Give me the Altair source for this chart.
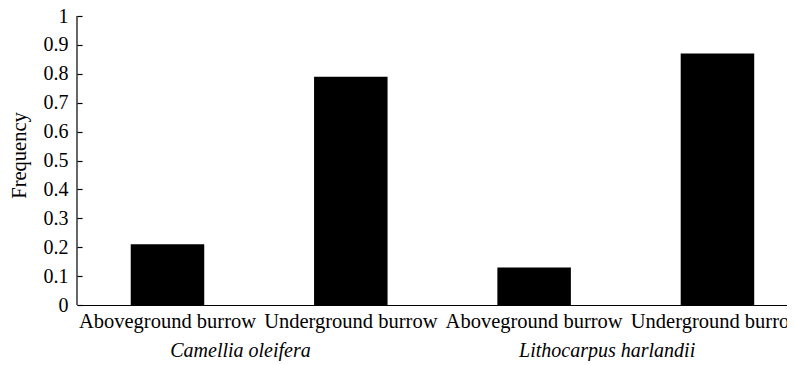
import altair as alt
import pandas as pd

groups = ["Camellia oleifera", "Camellia oleifera", "Lithocarpus harlandii", "Lithocarpus harlandii"]
burrows = ["Aboveground burrow", "Underground burrow", "Aboveground burrow", "Underground burrow"]
frequency = [0.21, 0.79, 0.13, 0.87]
group_names = ["Camellia oleifera", "Lithocarpus harlandii"]
y_ticks = [0, 0.1, 0.2, 0.3, 0.4, 0.5, 0.6, 0.7, 0.8, 0.9, 1]

keys = [g + "|" + b for g, b in zip(groups, burrows)]
df = pd.DataFrame({"key": keys, "group": groups, "burrow": burrows, "freq": frequency})
gdf = pd.DataFrame({"group": group_names,
                    "key": [keys[0], keys[2]]})

FONT = "Liberation Serif"

xscale = alt.Scale(domain=keys, paddingInner=0.599, paddingOuter=0.236, align=0.621)
yscale = alt.Scale(domain=[0, 1], nice=False)

xaxis = alt.Axis(title=None, labelAngle=0, ticks=False, domain=True,
                 domainColor="black", domainWidth=1.2,
                 labelExpr="split(datum.label, '|')[1]",
                 labelFont=FONT, labelFontSize=20.5, labelColor="black",
                 labelPadding=6, labelOverlap=False, labelLimit=0, grid=False)
yaxis = alt.Axis(title="Frequency", values=y_ticks, format="~g",
                 domain=False, ticks=True, tickSize=5, tickColor="black",
                 tickWidth=1.2, offset=-5, labelPadding=9,
                 labelOverlap=False, labelFlush=False,
                 labelFont=FONT, labelFontSize=20, labelColor="black",
                 titleFont=FONT, titleFontSize=20.5, titleFontWeight="normal",
                 titleColor="black", titleY=139, titleX=-57,
                 titleBaseline="alphabetic", titleAngle=-90, grid=False)

bars = alt.Chart(df).mark_bar(color="black").encode(
    x=alt.X("key:N", scale=xscale, sort=keys, axis=xaxis),
    y=alt.Y("freq:Q", scale=yscale, axis=yaxis),
)

yline = alt.Chart(pd.DataFrame({"a": [0]})).mark_rule(color="black", strokeWidth=1.2).encode(
    x=alt.value(0), y=alt.YDatum(0, scale=yscale, axis=yaxis), y2=alt.datum(1)
)

labels = alt.Chart(gdf).mark_text(font=FONT, fontSize=20, fontStyle="italic",
                                   color="black", dx=73, baseline="alphabetic").encode(
    x=alt.X("key:N", scale=xscale, sort=keys, axis=xaxis),
    y=alt.value(341),
    text="group:N",
)

chart = alt.layer(bars, yline, labels).properties(
    width=710, height=289,
    padding={"left": 69, "top": 8, "right": 0, "bottom": 56},
    autosize=alt.AutoSizeParams(type="none"),
    background="white",
    view=alt.ViewBackground(stroke="transparent", strokeWidth=0),
).configure_view(stroke="transparent", strokeWidth=0).configure_axis(grid=False)

chart.save("out.html", embed_options={"renderer": "svg", "actions": False})
